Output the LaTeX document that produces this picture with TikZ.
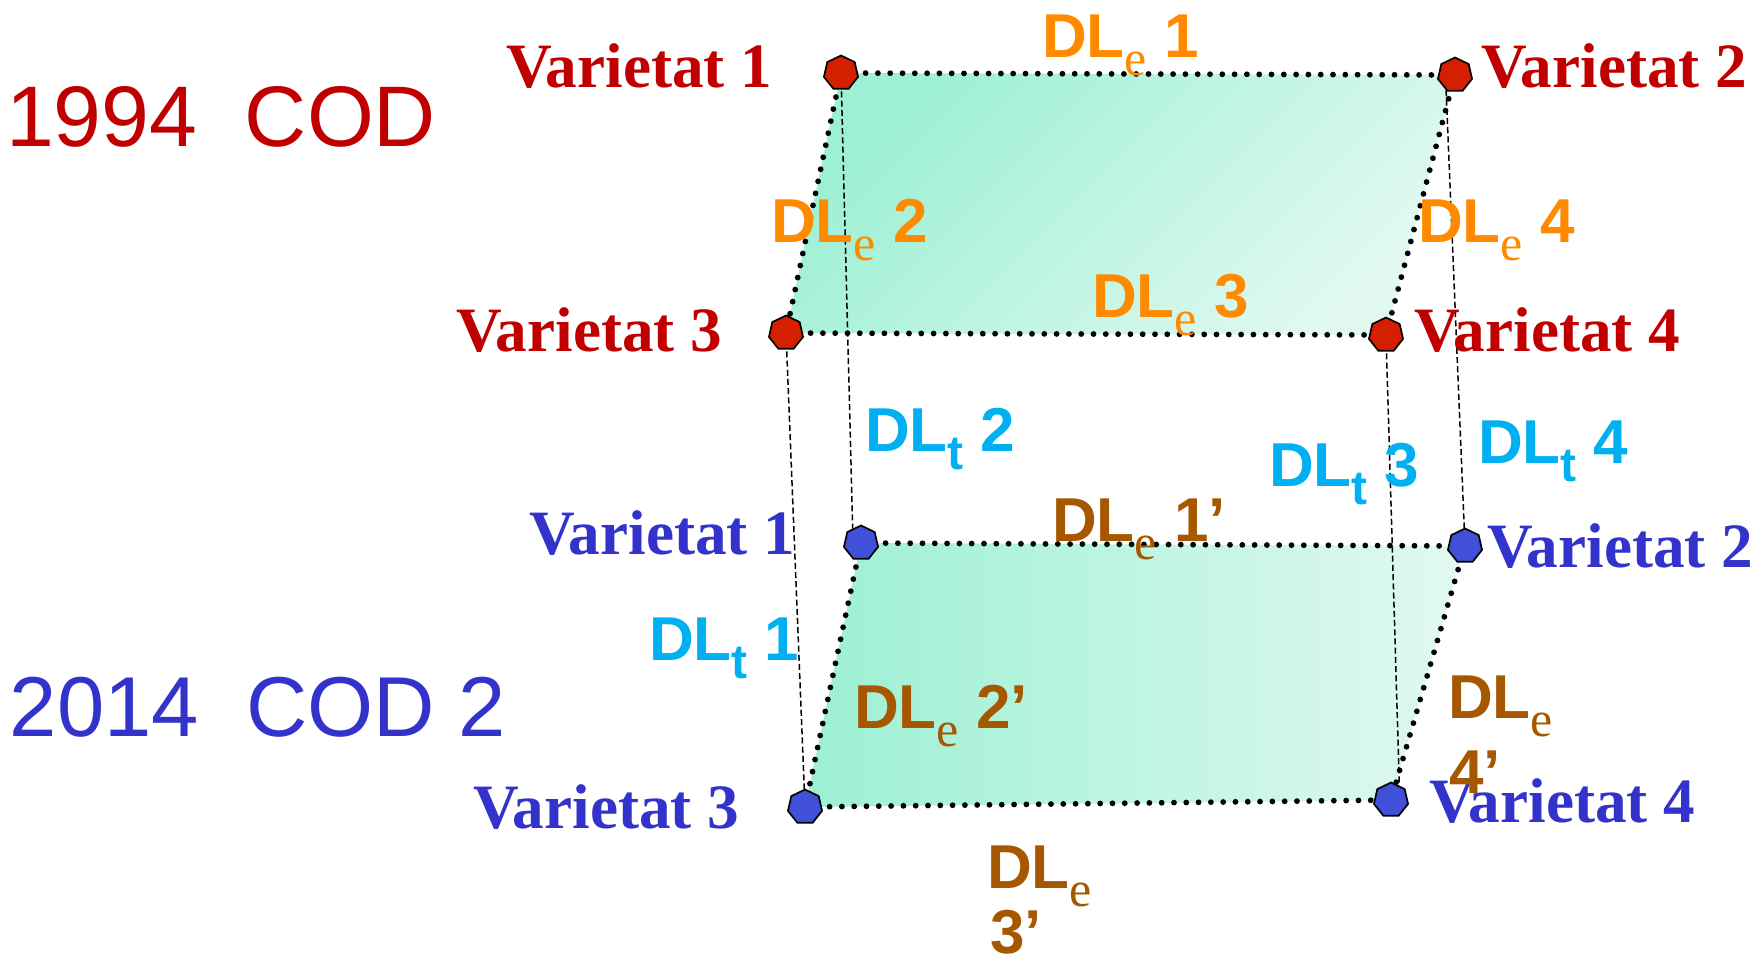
\documentclass[tikz,border=0pt]{standalone}
\usepackage{fontspec}
\setmainfont{Liberation Serif}
\newfontfamily\arialfont{Liberation Sans}
\usetikzlibrary{shapes.geometric,backgrounds}

\definecolor{codred}{HTML}{C00000}
\definecolor{codblue}{HTML}{3333CC}
\definecolor{ptred}{HTML}{D42000}
\definecolor{ptblue}{HTML}{4050D8}
\definecolor{dleorange}{HTML}{FF8A00}
\definecolor{dlebrown}{HTML}{A65800}
\definecolor{dltcyan}{HTML}{00B0F0}
\definecolor{fillA}{HTML}{9CF0D4}
\definecolor{fillB}{HTML}{E2F9F0}

% DL with a serif subscript e, and DL with a sans subscript t
\newcommand{\DLe}[1]{{\arialfont\bfseries DL}{\rmfamily\fontsize{25}{25}\selectfont\raisebox{-9pt}{e}}{\arialfont\bfseries\ #1}}
\newcommand{\DLt}[1]{{\arialfont\bfseries DL{\fontsize{24}{24}\selectfont\raisebox{-9pt}{t}}\ #1}}

\tikzset{
  vertexpt/.style={regular polygon, regular polygon sides=7, minimum size=17.5pt,
    inner sep=0pt, draw=black, line width=0.85pt},
  redpt/.style={vertexpt, fill=ptred},
  bluept/.style={vertexpt, fill=ptblue},
  edgedot/.style={line width=2.9pt, line cap=round, dash pattern=on 0pt off 6.15pt},
  timeline/.style={line width=0.75pt, dash pattern=on 3pt off 1.6pt},
  lbl/.style={anchor=base west, inner sep=0pt, outer sep=0pt},
  vartop/.style={lbl, text=codred, font=\fontsize{31.6}{32}\selectfont\bfseries},
  varbot/.style={lbl, text=codblue, font=\fontsize{31.6}{32}\selectfont\bfseries},
  dlelbl/.style={lbl, text=dleorange, font=\fontsize{31}{36}\selectfont},
  dleplbl/.style={lbl, text=dlebrown, font=\fontsize{31}{36}\selectfont},
  dltlbl/.style={lbl, text=dltcyan, font=\fontsize{31}{36}\selectfont},
  yearlbl/.style={lbl, font=\arialfont\fontsize{43}{43}\selectfont},
}

\begin{document}
\begin{tikzpicture}[x=0.5pt, y=-0.5pt]
\useasboundingbox (0,0) rectangle (1758,965);

% 1994 varieties (top plane)
\node[redpt] (rv1) at (841,73) {};
\node[redpt] (rv2) at (1455,75) {};
\node[redpt] (rv3) at (786,333) {};
\node[redpt] (rv4) at (1386,335) {};
% 2014 varieties (bottom plane)
\node[bluept] (bv1) at (861,543) {};
\node[bluept] (bv2) at (1465,546) {};
\node[bluept] (bv3) at (805,807) {};
\node[bluept] (bv4) at (1391,800) {};

\begin{scope}[on background layer]
  % shaded planes
  \shade[top color=fillA, bottom color=fillB, shading angle=45]
    (rv1.center) -- (rv2.center) -- (rv4.center) -- (rv3.center) -- cycle;
  \shade[left color=fillA, right color=fillB]
    (bv1.center) -- (bv2.center) -- (bv4.center) -- (bv3.center) -- cycle;
  % temporal links
  \draw[timeline] (rv1.center) -- (bv1.120);
  \draw[timeline] (rv2.240) -- (bv2.center);
  \draw[timeline] (rv3.center) -- (bv3.center);
  \draw[timeline] (rv4.center) -- (bv4.60);
  % spatial links
  \draw[edgedot] (rv1.center) -- (rv2.center);
  \draw[edgedot] (rv1.center) -- (rv3.center);
  \draw[edgedot] (rv2.center) -- (rv4.center);
  \draw[edgedot] (rv3.center) -- (rv4.center);
  \draw[edgedot] (bv1.center) -- (bv2.center);
  \draw[edgedot] (bv1.center) -- (bv3.center);
  \draw[edgedot] (bv2.center) -- (bv4.center);
  \draw[edgedot] (bv3.center) -- (bv4.center);
\end{scope}

% year titles
\node[yearlbl, text=codred] (y1994) at (6,146) {1994~~COD};
\node[yearlbl, text=codblue, font=\arialfont\fontsize{42.5}{43}\selectfont] (y2014) at (10,736) {2014~~COD 2};

% variety labels
\node[vartop] (tv1) at (506,87) {Varietat 1};
\node[vartop] (tv2) at (1481,87) {Varietat 2};
\node[vartop] (tv3) at (456,351) {Varietat 3};
\node[vartop] (tv4) at (1414,351) {Varietat 4};
\node[varbot] (lv1) at (529,554) {Varietat 1};
\node[varbot] (lv2) at (1487,567) {Varietat 2};
\node[varbot] (lv3) at (473,828) {Varietat 3};
\node[varbot] (lv4) at (1429,822) {Varietat 4};

% spatial distances 1994
\node[dlelbl] (de1) at (1042,57) {\DLe{1}};
\node[dlelbl] (de2) at (771,242) {\DLe{2}};
\node[dlelbl] (de3) at (1092,317) {\DLe{3}};
\node[dlelbl] (de4) at (1418,242) {\DLe{4}};

% temporal distances
\node[dltlbl] (dt1) at (649,660) {\DLt{1}};
\node[dltlbl] (dt2) at (865,451) {\DLt{2}};
\node[dltlbl] (dt3) at (1269,486) {\DLt{3}};
\node[dltlbl] (dt4) at (1478,463) {\DLt{4}};

% spatial distances 2014
\node[dleplbl] (dp1) at (1052,541) {\DLe{1’}};
\node[dleplbl] (dp2) at (854,728) {\DLe{2’}};
\node[dleplbl] (dp3a) at (987,888) {\DLe{}};
\node[dleplbl] (dp3b) at (990,953) {\arialfont\bfseries 3’};
\node[dleplbl] (dp4a) at (1448,718) {\DLe{}};
\node[dleplbl] (dp4b) at (1449,793) {\arialfont\bfseries 4’};
\end{tikzpicture}
\end{document}
